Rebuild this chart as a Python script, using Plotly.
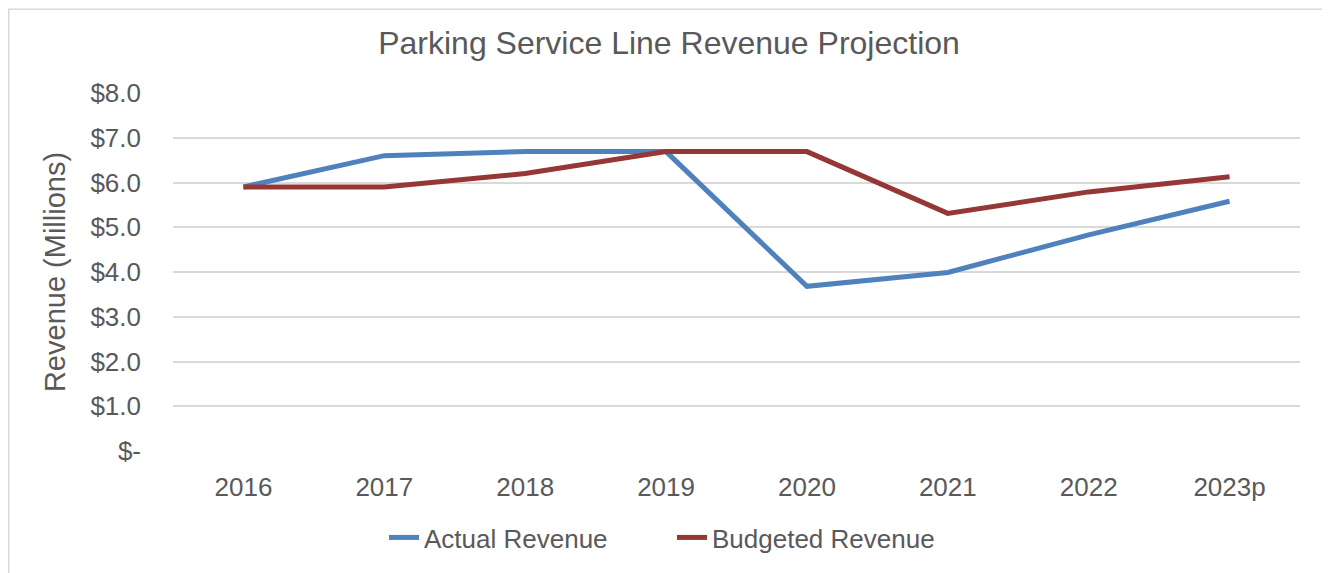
import plotly.graph_objects as go

years = ["2016", "2017", "2018", "2019", "2020", "2021", "2022", "2023p"]
actual = [5.9, 6.6, 6.69, 6.69, 3.68, 3.99, 4.83, 5.58]
budgeted = [5.9, 5.9, 6.2, 6.69, 6.69, 5.31, 5.79, 6.13]
ytick_vals = [0, 1, 2, 3, 4, 5, 6, 7, 8]
ytick_text = ["$-", "$1.0", "$2.0", "$3.0", "$4.0", "$5.0", "$6.0", "$7.0", "$8.0"]

FONT = "Liberation Sans, Arial, sans-serif"
GREY = "#595959"

fig = go.Figure()
fig.add_trace(go.Scatter(x=years, y=actual, mode="lines", name="Actual Revenue",
                         line=dict(color="#4F81BD", width=5)))
fig.add_trace(go.Scatter(x=years, y=budgeted, mode="lines", name="Budgeted Revenue",
                         line=dict(color="#953735", width=5)))

# page body has an 8px offset; figure coordinates = page coordinates - 8
OFF = 8
W, H = 1330 - OFF, 573 - OFF
L, R, T, B = 173 - OFF, W - (1300 - OFF), 93 - OFF, H - (453 - OFF)
pw = W - L - R
ph = H - T - B

def px_x(p):
    return (p - OFF - L) / pw

def px_y(p):
    return (H - B - (p - OFF)) / ph

def fx(p):
    return (p - L) / pw

def fy(p):
    return (H - B - p) / ph

# outer chart border (clamped inside the figure canvas)
fig.add_shape(type="rect", xref="paper", yref="paper",
              x0=fx(0.75), x1=px_x(1325), y0=fy(H + 20), y1=fy(0.75),
              line=dict(color="#D9D9D9", width=1.5), fillcolor="rgba(0,0,0,0)", layer="below")

fig.update_layout(
    width=W, height=H,
    margin=dict(l=L, r=R, t=T, b=B),
    paper_bgcolor="white", plot_bgcolor="white",
    font=dict(family=FONT, color=GREY, size=26),
    title=dict(text="Parking Service Line Revenue Projection",
               font=dict(family=FONT, size=32, color=GREY),
               x=(669 - OFF) / W, xanchor="center", xref="container",
               y=1 - (43 - OFF) / H, yanchor="middle", yref="container"),
    xaxis=dict(type="category", range=[-0.5, 7.5], showgrid=False, zeroline=False,
               showline=False, ticks="", tickfont=dict(size=26, color=GREY),
               ticklabelstandoff=18),
    yaxis=dict(range=[0, 8], tickvals=ytick_vals, ticktext=ytick_text,
               showgrid=True, gridcolor="#D9D9D9", gridwidth=1.5, zeroline=False,
               showline=False, ticks="", tickfont=dict(size=26, color=GREY),
               ticklabelstandoff=31,
               title=dict(text="Revenue (Millions)", font=dict(size=29, color=GREY),
                          standoff=16)),
    legend=dict(orientation="h", x=px_x(672), xanchor="center", y=px_y(540), yanchor="middle",
                font=dict(size=26, color=GREY), bgcolor="rgba(0,0,0,0)",
                tracegroupgap=0, entrywidth=243, entrywidthmode="pixels"),
    showlegend=True,
)

fig.write_html("out.html")
